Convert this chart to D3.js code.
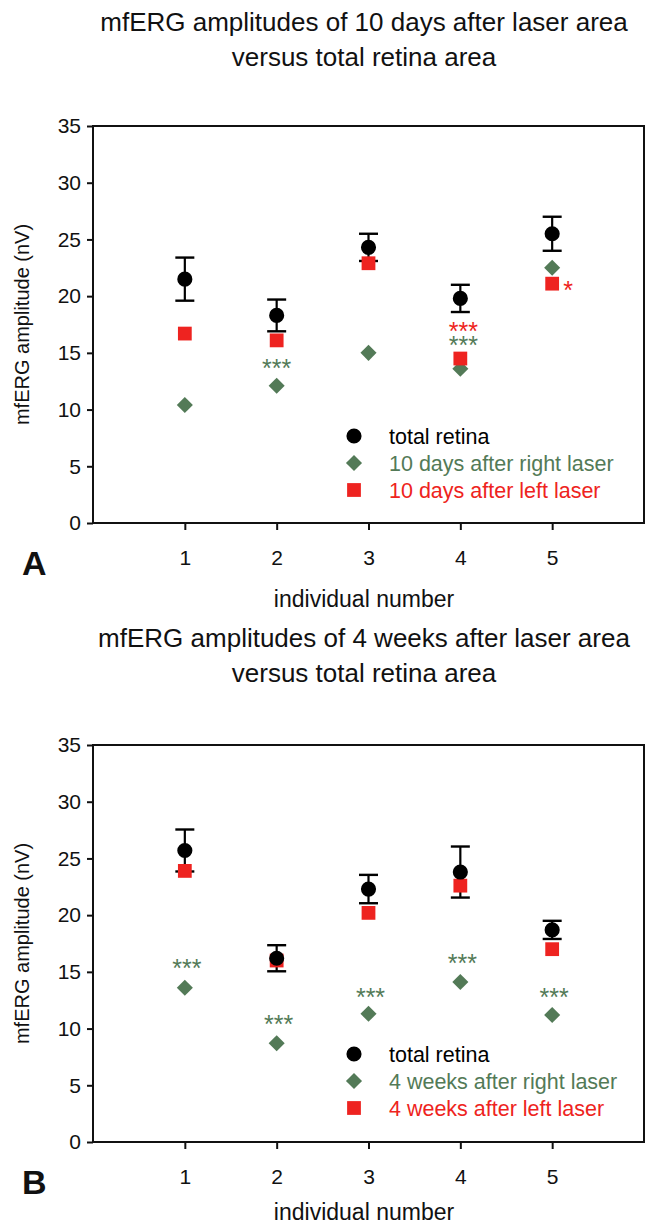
<!DOCTYPE html>
<html>
<head>
<meta charset="utf-8">
<script src="https://cdn.jsdelivr.net/npm/d3@7"></script>
<style>
  html, body { margin: 0; padding: 0; background: #fff; }
  svg { display: block; font-family: "Liberation Sans", Arial, sans-serif; }
</style>
</head>
<body>
<svg id="chart" width="652" height="1226"></svg>
<script>
// ---------- data ----------
const individuals = [1, 2, 3, 4, 5];
const yTicks = [0, 5, 10, 15, 20, 25, 30, 35];

// Panel A: 10 days
const totalA = [21.5, 18.3, 24.3, 19.8, 25.5];
const totalErrA = [1.9, 1.4, 1.2, 1.2, 1.5];
const rightA = [10.4, 12.1, 15.0, 13.6, 22.5];
const leftA = [16.7, 16.1, 22.9, 14.5, 21.1];
const starsA = [
  { x: 2, y: 14.1, text: "***", series: "right", dx: 0 },
  { x: 4, y: 17.4, text: "***", series: "left", dx: 3 },
  { x: 4, y: 16.1, text: "***", series: "right", dx: 3 },
  { x: 5, y: 21.0, text: "*", series: "left", dx: 16 }
];

// Panel B: 4 weeks
const totalB = [25.7, 16.2, 22.3, 23.8, 18.7];
const totalErrB = [1.85, 1.15, 1.25, 2.25, 0.8];
const rightB = [13.6, 8.7, 11.3, 14.1, 11.2];
const leftB = [23.9, 16.0, 20.2, 22.6, 17.0];
const starsB = [
  { x: 1, y: 15.8, text: "***", series: "right", dx: 2 },
  { x: 2, y: 10.8, text: "***", series: "right", dx: 2 },
  { x: 3, y: 13.2, text: "***", series: "right", dx: 2 },
  { x: 4, y: 16.2, text: "***", series: "right", dx: 2 },
  { x: 5, y: 13.2, text: "***", series: "right", dx: 2 }
];

const titlesA = ["mfERG amplitudes of 10 days after laser area", "versus total retina area"];
const titlesB = ["mfERG amplitudes of 4 weeks after laser area", "versus total retina area"];
const legendA = ["total retina", "10 days after right laser", "10 days after left laser"];
const legendB = ["total retina", "4 weeks after right laser", "4 weeks after left laser"];
const xLabel = "individual number";
const yLabel = "mfERG amplitude (nV)";

// ---------- style ----------
const GREEN = "#537a57";
const RED = "#ee2320";
const BLACK = "#000";
const colorOf = { total: BLACK, right: GREEN, left: RED };
const FONT = "Liberation Sans, Arial, sans-serif";

const svg = d3.select("#chart");

function drawPanel(cfg) {
  const g = svg.append("g");
  const left = 93, right = 644;
  const x = d3.scaleLinear().domain([0, 6]).range([left, right]);
  const y = d3.scaleLinear().domain([0, 35]).range([cfg.bottom, cfg.top]);

  // titles
  g.selectAll("text.title").data(cfg.titles).enter().append("text")
    .attr("x", 364).attr("y", (d, i) => cfg.titleY + i * 35)
    .attr("text-anchor", "middle").attr("font-size", 26).attr("fill", "#111")
    .text(d => d);

  // box
  g.append("rect").attr("x", left).attr("y", cfg.top)
    .attr("width", right - left).attr("height", cfg.bottom - cfg.top)
    .attr("fill", "none").attr("stroke", "#111").attr("stroke-width", 2);

  // y axis
  const ya = g.append("g").attr("transform", `translate(${left},0)`)
    .call(d3.axisLeft(y).tickValues(yTicks).tickFormat(d3.format("d")).tickSize(6).tickPadding(6));
  ya.select(".domain").remove();
  ya.selectAll("line").attr("stroke", "#111").attr("stroke-width", 2);
  ya.selectAll("text").attr("font-size", 21).attr("fill", "#111").attr("font-family", FONT);

  // x axis
  const xa = g.append("g").attr("transform", `translate(0,${cfg.bottom})`)
    .call(d3.axisBottom(x).tickValues(individuals).tickFormat(d3.format("d")).tickSize(7).tickPadding(20));
  xa.select(".domain").remove();
  xa.selectAll("line").attr("stroke", "#111").attr("stroke-width", 2);
  xa.selectAll("text").attr("font-size", 21).attr("fill", "#111").attr("font-family", FONT);

  // axis labels
  g.append("text").attr("x", 364).attr("y", cfg.xLabelY)
    .attr("text-anchor", "middle").attr("font-size", 23).attr("fill", "#111").text(xLabel);
  g.append("text")
    .attr("transform", `translate(29,${(cfg.top + cfg.bottom) / 2}) rotate(-90)`)
    .attr("text-anchor", "middle").attr("font-size", 20).attr("fill", "#111").text(yLabel);

  // panel letter
  g.append("text").attr("x", 22).attr("y", cfg.bottom + 52)
    .attr("font-size", 34).attr("font-weight", "bold").attr("fill", "#111").text(cfg.letter);

  // error bars
  const eb = g.append("g");
  individuals.forEach((ind, i) => {
    const cx = x(ind);
    const yt = y(cfg.total[i] + cfg.err[i]);
    const yb = y(cfg.total[i] - cfg.err[i]);
    eb.append("line").attr("x1", cx).attr("x2", cx).attr("y1", yt).attr("y2", yb)
      .attr("stroke", BLACK).attr("stroke-width", 2.2);
    [yt, yb].forEach(yy => eb.append("line").attr("x1", cx - 9.5).attr("x2", cx + 9.5)
      .attr("y1", yy).attr("y2", yy).attr("stroke", BLACK).attr("stroke-width", 2.4));
  });

  const sym = {
    total: d3.symbol().type(d3.symbolCircle).size(180),
    right: d3.symbol().type(d3.symbolDiamond2).size(165),
    left: d3.symbol().type(d3.symbolSquare).size(190)
  };

  g.selectAll("path.right").data(cfg.right).enter().append("path")
    .attr("d", sym.right())
    .attr("transform", (d, i) => `translate(${x(individuals[i])},${y(d)})`)
    .attr("fill", GREEN);
  g.selectAll("path.left").data(cfg.left).enter().append("path")
    .attr("d", sym.left())
    .attr("transform", (d, i) => `translate(${x(individuals[i])},${y(d)})`)
    .attr("fill", RED);
  g.selectAll("path.total").data(cfg.total).enter().append("path")
    .attr("d", sym.total())
    .attr("transform", (d, i) => `translate(${x(individuals[i])},${y(d)})`)
    .attr("fill", BLACK);

  // significance stars
  g.selectAll("text.star").data(cfg.stars).enter().append("text")
    .attr("x", d => x(d.x) + d.dx).attr("y", d => y(d.y) + 14)
    .attr("text-anchor", "middle").attr("font-size", 25)
    .attr("fill", d => colorOf[d.series]).text(d => d.text);

  // legend
  const keys = ["total", "right", "left"];
  const lg = g.append("g");
  keys.forEach((k, i) => {
    const ly = cfg.legendY + i * 27;
    lg.append("path").attr("d", sym[k]())
      .attr("transform", `translate(354,${ly})`).attr("fill", colorOf[k]);
    lg.append("text").attr("x", 389).attr("y", ly + 7.5)
      .attr("font-size", 21.5).attr("fill", colorOf[k]).text(cfg.legend[i]);
  });
}

drawPanel({
  top: 126, bottom: 523, titleY: 31, titles: titlesA, letter: "A", xLabelY: 607,
  total: totalA, err: totalErrA, right: rightA, left: leftA, stars: starsA,
  legend: legendA, legendY: 436
});
drawPanel({
  top: 745, bottom: 1142, titleY: 647, titles: titlesB, letter: "B", xLabelY: 1220,
  total: totalB, err: totalErrB, right: rightB, left: leftB, stars: starsB,
  legend: legendB, legendY: 1054
});
</script>
</body>
</html>
